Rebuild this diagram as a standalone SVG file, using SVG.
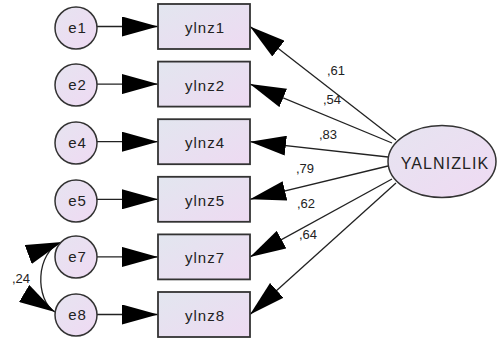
<svg xmlns="http://www.w3.org/2000/svg" width="497" height="344" viewBox="0 0 497 344">
<style>
text{font-family:"Liberation Sans",Arial,sans-serif;fill:#222;text-anchor:middle}
.box{fill:url(#g);stroke:#333;stroke-width:1.8}
.err{fill:url(#g2);stroke:#333;stroke-width:1.5}
.lbl{font-size:15px;letter-spacing:1px}
.big{font-size:16px;letter-spacing:1.1px}
.num{font-size:13px;text-anchor:start}
.ln{stroke:#222;stroke-width:1.3;fill:none;marker-end:url(#ah)}
</style>
<defs>
<linearGradient id="g" x1="0" y1="0" x2="1" y2="1">
<stop offset="0" stop-color="#e2e6ef"/><stop offset="1" stop-color="#eedaf2"/>
</linearGradient>
<linearGradient id="g2" x1="0" y1="0" x2="1" y2="1">
<stop offset="0" stop-color="#e6e4f0"/><stop offset="1" stop-color="#efdaf3"/>
</linearGradient>
<marker id="ah" viewBox="0 0 36 20" refX="36" refY="10" markerWidth="36" markerHeight="20" markerUnits="userSpaceOnUse" orient="auto-start-reverse">
<path d="M0,0 L36,10 L0,20 z" fill="#000"/>
</marker>
</defs>
<g id="connectors">
<line class="ln" x1="97" y1="26.5" x2="158" y2="26.5"/>
<line class="ln" x1="97" y1="84.1" x2="158" y2="84.1"/>
<line class="ln" x1="97" y1="141.7" x2="158" y2="141.7"/>
<line class="ln" x1="97" y1="199.3" x2="158" y2="199.3"/>
<line class="ln" x1="97" y1="256.9" x2="158" y2="256.9"/>
<line class="ln" x1="97" y1="314.5" x2="158" y2="314.5"/>
<line class="ln" x1="396" y1="140" x2="250" y2="26.5"/>
<line class="ln" x1="392" y1="143" x2="250" y2="84.1"/>
<line class="ln" x1="388" y1="157" x2="250" y2="141.7"/>
<line class="ln" x1="388" y1="166" x2="250" y2="199.3"/>
<line class="ln" x1="392" y1="179" x2="250" y2="256.9"/>
<line class="ln" x1="396" y1="183" x2="250" y2="314.5"/>
<path class="ln" d="M62,242 C35,252 35,300 55,312" style="marker-start:url(#ah)"/>
<text class="num" x="327" y="75">,61</text>
<text class="num" x="323" y="104">,54</text>
<text class="num" x="319" y="139">,83</text>
<text class="num" x="296" y="173">,79</text>
<text class="num" x="297" y="208">,62</text>
<text class="num" x="299" y="239">,64</text>
<text class="num" x="12" y="283">,24</text>
</g>
<g id="e1"><circle class="err" cx="76" cy="28" r="21"/><text class="lbl" x="77.5" y="33">e1</text></g>
<g id="e2"><circle class="err" cx="76" cy="85" r="21"/><text class="lbl" x="77.5" y="90">e2</text></g>
<g id="e4"><circle class="err" cx="76" cy="143" r="21"/><text class="lbl" x="77.5" y="148">e4</text></g>
<g id="e5"><circle class="err" cx="76" cy="201" r="21"/><text class="lbl" x="77.5" y="206">e5</text></g>
<g id="e7"><circle class="err" cx="76" cy="257" r="21"/><text class="lbl" x="77.5" y="262">e7</text></g>
<g id="e8"><circle class="err" cx="76" cy="315" r="21"/><text class="lbl" x="77.5" y="320">e8</text></g>
<g id="ylnz1"><rect class="box" x="158" y="4" width="92" height="45"/><text class="lbl" x="205" y="33">ylnz1</text></g>
<g id="ylnz2"><rect class="box" x="158" y="61.6" width="92" height="45"/><text class="lbl" x="205" y="90.6">ylnz2</text></g>
<g id="ylnz4"><rect class="box" x="158" y="119.2" width="92" height="45"/><text class="lbl" x="205" y="148.2">ylnz4</text></g>
<g id="ylnz5"><rect class="box" x="158" y="176.8" width="92" height="45"/><text class="lbl" x="205" y="205.8">ylnz5</text></g>
<g id="ylnz7"><rect class="box" x="158" y="234.4" width="92" height="45"/><text class="lbl" x="205" y="263.4">ylnz7</text></g>
<g id="ylnz8"><rect class="box" x="158" y="292" width="92" height="45"/><text class="lbl" x="205" y="321">ylnz8</text></g>
<g id="YALNIZLIK"><ellipse class="err" cx="442" cy="161.5" rx="54" ry="36"/><text class="big" x="445" y="169">YALNIZLIK</text></g>
</svg>
